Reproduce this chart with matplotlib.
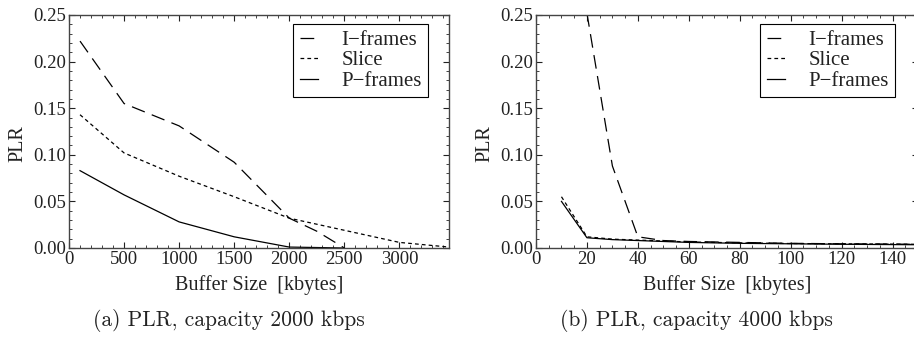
import matplotlib
matplotlib.use("Agg")
import matplotlib.pyplot as plt
from matplotlib.ticker import MultipleLocator, FormatStrFormatter

plt.rcParams['font.family'] = ['Liberation Serif', 'DejaVu Serif']
plt.rcParams['font.size'] = 13
plt.rcParams['text.color'] = '#222222'
plt.rcParams['axes.labelcolor'] = '#222222'
plt.rcParams['xtick.color'] = '#222222'
plt.rcParams['ytick.color'] = '#222222'

# (a) capacity 2000 kbps
buf_a_i = [100, 500, 1000, 1500, 2000, 2250, 2500]
plr_a_i = [0.222, 0.155, 0.131, 0.092, 0.032, 0.018, 0.000]
buf_a_s = [100, 500, 1000, 1500, 2000, 2500, 3000, 3450]
plr_a_s = [0.143, 0.102, 0.077, 0.055, 0.032, 0.019, 0.006, 0.001]
buf_a_p = [100, 500, 1000, 1500, 2000, 2500]
plr_a_p = [0.083, 0.057, 0.028, 0.012, 0.001, 0.000]

# (b) capacity 4000 kbps
buf_b_i = [20, 30, 40, 50, 60, 80, 100, 120, 150]
plr_b_i = [0.252, 0.088, 0.012, 0.008, 0.007, 0.006, 0.005, 0.0045, 0.004]
buf_b_s = [10, 20, 30, 40, 50, 60, 80, 100, 120, 150]
plr_b_s = [0.055, 0.012, 0.0095, 0.0085, 0.0075, 0.0065, 0.0055, 0.0048, 0.0045, 0.004]
buf_b_p = [10, 20, 30, 40, 50, 60, 80, 100, 120, 150]
plr_b_p = [0.050, 0.011, 0.009, 0.008, 0.007, 0.006, 0.005, 0.0045, 0.004, 0.0035]

series_names = ['I\u2212frames', 'Slice', 'P\u2212frames']
captions = ['(a) PLR, capacity 2000 kbps', '(b) PLR, capacity 4000 kbps']

styles = [dict(dashes=(11, 6)), dict(dashes=(3, 2.5)), dict(linestyle='-')]

fig = plt.figure(figsize=(9.14, 3.38), dpi=100)
ax_a = fig.add_axes([69 / 914, 1 - 248 / 338, 380 / 914, 233 / 338])
ax_b = fig.add_axes([536 / 914, 1 - 248 / 338, 382 / 914, 233 / 338])

panels = [
    (ax_a, [(buf_a_i, plr_a_i), (buf_a_s, plr_a_s), (buf_a_p, plr_a_p)],
     (0, 3450), 500, 100, (359 / 380, 224 / 233)),
    (ax_b, [(buf_b_i, plr_b_i), (buf_b_s, plr_b_s), (buf_b_p, plr_b_p)],
     (0, 150), 20, 5, (359 / 382, 224 / 233)),
]

for ax, data, xlim, xmaj, xmin, leg_pos in panels:
    for (x, y), name, st in zip(data, series_names, styles):
        ax.plot(x, y, color='black', lw=0.9, label=name, **st)
    ax.set_xlim(*xlim)
    ax.set_ylim(0, 0.25)
    ax.xaxis.set_major_locator(MultipleLocator(xmaj))
    ax.xaxis.set_minor_locator(MultipleLocator(xmin))
    ax.yaxis.set_major_locator(MultipleLocator(0.05))
    ax.yaxis.set_minor_locator(MultipleLocator(0.01))
    ax.yaxis.set_major_formatter(FormatStrFormatter('%.2f'))
    ax.tick_params(which='both', direction='in', top=True, right=True,
                   labelsize=13.5, pad=2)
    ax.tick_params(which='major', length=4, width=0.8)
    ax.tick_params(which='minor', length=2, width=0.6)
    for sp in ax.spines.values():
        sp.set_color('#444444')
        sp.set_linewidth(1.0)
    ax.set_xlabel('Buffer Size  [kbytes]', fontsize=14.5, labelpad=5)
    ax.set_ylabel('PLR', fontsize=14.5)
    ax.yaxis.set_label_coords(-0.11, 0.45)
    leg = ax.legend(loc='upper right', bbox_to_anchor=leg_pos, borderaxespad=0,
                    fancybox=False, framealpha=1, edgecolor='black',
                    handlelength=0.9, handletextpad=1.1, labelspacing=0.05,
                    borderpad=0.3, fontsize=15)
    leg.get_frame().set_linewidth(0.8)

fig.text(229 / 914, 1 - 320 / 338, captions[0], family='cmr10', fontsize=15.5,
         ha='center', va='center')
fig.text(696 / 914, 1 - 320 / 338, captions[1], family='cmr10', fontsize=15.5,
         ha='center', va='center')

fig.savefig('out.png', dpi=100, facecolor='white')
